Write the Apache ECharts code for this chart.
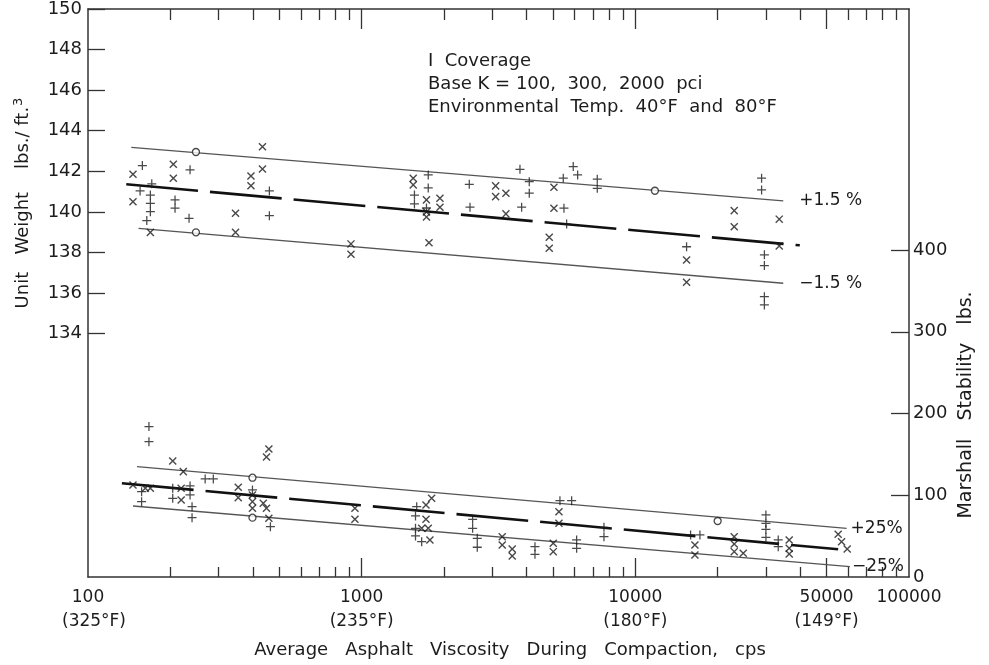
<!DOCTYPE html>
<html>
<head>
<meta charset="utf-8">
<title>Unit Weight / Marshall Stability vs Viscosity</title>
<script src="https://cdn.jsdelivr.net/npm/echarts/dist/echarts.min.js"></script>
<style>
  html, body { margin: 0; padding: 0; background: #fff; }
  #chart { width: 989px; height: 665px; }
</style>
</head>
<body>
<div id="chart"></div>
<script>
// x: viscosity (cps), upper y: unit weight (lbs/ft3), lower y: Marshall stability (lbs)
const upperPlus = [
  [158, 142.28], [171, 141.38], [155, 141.03], [169, 140.83], [169, 140.42], [169, 140.01], [164, 139.57],
  [208, 140.59], [208, 140.18], [236, 142.07], [234, 139.68], [460, 141.03], [460, 139.81],
  [1559, 140.83], [1559, 140.39], [1751, 141.82], [1751, 141.18], [1725, 140.19],
  [2473, 141.36], [2488, 140.23], [3788, 142.1], [4097, 141.49], [4097, 140.92], [3842, 140.23],
  [5485, 140.18], [5453, 141.66], [5930, 142.23], [6154, 141.82], [7259, 141.61], [7259, 141.16], [5610, 139.4],
  [28930, 141.66], [28930, 141.08], [15390, 138.28], [29620, 137.88], [29620, 137.35], [29620, 135.82], [29620, 135.41]
]
const upperCross = [
  [146, 141.85], [146, 140.5], [205, 142.35], [205, 141.66], [434, 143.21], [434, 142.11], [394, 141.77], [394, 141.29],
  [169, 138.99], [346, 139.93], [346, 138.99], [914, 138.42], [914, 137.91],
  [1543, 141.66], [1543, 141.33], [1725, 140.59], [1725, 140.0], [1725, 139.75], [1762, 138.48],
  [1932, 140.67], [1932, 140.23], [3087, 141.28], [3087, 140.75], [3366, 140.92], [3366, 139.9],
  [5042, 141.21], [5042, 140.18], [4846, 138.75], [4846, 138.21],
  [22980, 140.06], [22980, 139.27], [33560, 139.64], [33560, 138.32], [15390, 137.63], [15390, 136.53]
]
const upperCircle = [[248, 142.95], [248, 138.99], [11790, 141.04]]

const lowerPlus = [
  [167, 184.0], [167, 165.6], [157, 104.4], [204, 108.6], [236, 111.4], [204, 96.3], [236, 100.4], [157, 92.2],
  [240, 86.0], [240, 72.6], [268, 120.0], [287, 120.0], [399, 106.5], [464, 61.6],
  [1589, 86.0], [1573, 74.7], [1573, 59.6], [1573, 50.2], [1657, 43.2],
  [2544, 70.6], [2544, 59.6], [2645, 47.4], [2645, 36.4], [4298, 37.1], [4298, 27.8],
  [5303, 93.4], [5852, 93.4], [6102, 45.3], [6102, 35.1], [7680, 60.8], [7680, 49.3],
  [15920, 51.4], [17220, 51.4], [30000, 75.9], [30000, 65.7], [30000, 58.4], [30000, 48.6], [33280, 45.3], [33280, 37.1]
]
const lowerCross = [
  [146, 112.6], [162, 108.6], [169, 108.6], [219, 108.6], [219, 94.2], [204, 142.0], [223, 128.9],
  [458, 156.7], [449, 146.9], [354, 109.8], [354, 97.1], [399, 100.4], [399, 92.2], [399, 84.1],
  [437, 90.2], [449, 84.1], [458, 71.8], [945, 84.1], [945, 70.6],
  [1802, 96.3], [1718, 88.1], [1718, 70.6], [1657, 59.6], [1751, 59.6], [1776, 45.3],
  [3263, 49.3], [3263, 39.2], [3549, 34.3], [3549, 25.7], [5013, 41.2], [5013, 31.0], [5259, 79.9], [5259, 65.7],
  [16510, 39.2], [16510, 26.9], [22980, 49.3], [22980, 40.4], [22980, 31.0], [24790, 29.0],
  [36500, 45.3], [36500, 35.1], [36500, 28.2], [55100, 52.3], [56700, 43.2], [59450, 34.3]
]
const lowerCircle = [[399, 121.5], [399, 72.6], [19990, 68.5]]

// fitted line and +/- band ends
const weightHigh = [[144, 143.18], [34710, 140.54]]
const weightMid = [[138, 141.36], [39900, 138.35]]
const weightLow = [[153, 139.19], [34710, 136.48]]
const stabHigh = [[151, 135.0], [59160, 59.6]]
const stabMid = [[133, 114.7], [55100, 33.9]]
const stabLow = [[146, 86.9], [60810, 12.6]]

// axis ticks and labels
const xLabelValues = [100, 1000, 10000, 50000, 100000]
const xLabelTemps = ['(325°F)', '(235°F)', '(180°F)', '(149°F)', '']
const xMinorTicks = [200, 300, 400, 500, 600, 700, 800, 900,
  2000, 3000, 4000, 5000, 6000, 7000, 8000, 9000,
  20000, 30000, 40000, 60000, 70000, 80000, 90000]
const xMajorTicks = [1000, 10000, 50000]
const weightTicks = [134, 136, 138, 140, 142, 144, 146, 148, 150]
const stabTicks = [100, 200, 300, 400]
const stabLabels = [0, 100, 200, 300, 400]

const ink = '#1c1c1c'
const font = 'DejaVu Sans'
const plusPath = 'path://M0,4.3h10v1.4h-10z M4.3,0h1.4v10h-1.4z'

function xAxisFor (position, ticks, len, showLine, showLabel) {
  return {
    type: 'log',
    logBase: 10,
    min: 100,
    max: 100000,
    position: position,
    axisLine: { show: showLine, onZero: false, lineStyle: { color: '#333', width: 1.5 } },
    axisTick: { show: true, inside: true, length: len, customValues: ticks, lineStyle: { color: '#333', width: 1.3 } },
    splitLine: { show: false },
    minorTick: { show: false },
    axisLabel: showLabel ? {
      customValues: xLabelValues,
      color: ink,
      fontFamily: font,
      fontSize: 17,
      lineHeight: 24,
      margin: 9,
      formatter: value => {
        const i = xLabelValues.findIndex(v => Math.abs(v - value) / v < 1e-6)
        if (i < 0) return ''
        const temp = xLabelTemps[i]
        // first label sits a little right of its tick in the original
        if (i === 0) return `{a|${xLabelValues[i]}}\n{b|${temp}}`
        return temp ? `${xLabelValues[i]}\n${temp}` : `${xLabelValues[i]}`
      },
      rich: {
        a: { fontFamily: font, fontSize: 17, lineHeight: 24, color: ink },
        b: { fontFamily: font, fontSize: 17, lineHeight: 24, color: ink, padding: [0, 0, 0, 12] }
      }
    } : { show: false }
  }
}

function scatter (name, data, yIndex, symbol, rotate, size) {
  const circle = symbol === 'circle'
  return {
    name: name,
    type: 'scatter',
    yAxisIndex: yIndex,
    data: data,
    symbol: symbol,
    symbolRotate: rotate,
    symbolSize: size,
    z: 5,
    itemStyle: circle
      ? { color: '#fff', borderColor: ink, borderWidth: 1.3 }
      : { color: ink },
    emphasis: { disabled: true }
  }
}

function band (name, data, yIndex, thick, label, gap) {
  return {
    name: name,
    type: 'line',
    yAxisIndex: yIndex,
    data: data,
    symbol: 'none',
    z: 3,
    lineStyle: thick
      ? { color: '#111', width: 2.6, type: [72, 12] }
      : { color: '#555', width: 1.3 },
    endLabel: label ? {
      show: true,
      formatter: label,
      distance: gap,
      color: ink,
      fontFamily: font,
      fontSize: 17
    } : { show: false },
    emphasis: { disabled: true }
  }
}

const chart = echarts.init(document.getElementById('chart'), null, { renderer: 'canvas' })

chart.setOption({
  animation: false,
  backgroundColor: '#fff',
  grid: { left: 88, right: 80, top: 9, bottom: 88 },
  xAxis: [
    xAxisFor('bottom', xMinorTicks, 10, true, true),
    xAxisFor('bottom', xMajorTicks, 19, false, false),
    xAxisFor('top', xMinorTicks, 11, true, false),
    xAxisFor('top', xMajorTicks, 20, false, false)
  ],
  yAxis: [
    {
      type: 'value',
      min: 122,
      max: 150,
      interval: 2,
      position: 'left',
      axisLine: { show: true, lineStyle: { color: '#333', width: 1.5 } },
      axisTick: { show: true, inside: true, length: 17, customValues: weightTicks, lineStyle: { color: '#333', width: 1.3 } },
      axisLabel: { customValues: weightTicks, color: ink, fontFamily: font, fontSize: 18, margin: 6 },
      splitLine: { show: false }
    },
    {
      type: 'value',
      min: 0,
      max: 695,
      interval: 100,
      position: 'right',
      axisLine: { show: true, lineStyle: { color: '#333', width: 1.5 } },
      axisTick: { show: true, inside: true, length: 18, customValues: stabTicks, lineStyle: { color: '#333', width: 1.3 } },
      axisLabel: { customValues: stabLabels, color: ink, fontFamily: font, fontSize: 18, margin: 4 },
      splitLine: { show: false }
    }
  ],
  graphic: [
    {
      type: 'text',
      left: 428,
      top: 50,
      style: {
        text: 'I  Coverage\nBase K = 100,  300,  2000  pci\nEnvironmental  Temp.  40°F  and  80°F',
        fill: ink,
        font: `18px "${font}"`,
        lineHeight: 23
      }
    },
    {
      type: 'text',
      x: 23,
      y: 203,
      rotation: Math.PI / 2,
      style: {
        text: 'Unit   Weight    lbs./ ft.{sup|3}',
        fill: ink,
        font: `18px "${font}"`,
        align: 'center',
        verticalAlign: 'middle',
        rich: { sup: { fontSize: 13, fontFamily: font, verticalAlign: 'top', padding: [0, 0, 8, 1] } }
      }
    },
    {
      type: 'text',
      x: 966,
      y: 405,
      rotation: Math.PI / 2,
      style: {
        text: 'Marshall   Stability   lbs.',
        fill: ink,
        font: `19px "${font}"`,
        align: 'center',
        verticalAlign: 'middle'
      }
    },
    {
      type: 'text',
      x: 510,
      y: 650,
      style: {
        text: 'Average   Asphalt   Viscosity   During   Compaction,   cps',
        fill: ink,
        font: `18px "${font}"`,
        align: 'center',
        verticalAlign: 'middle'
      }
    }
  ],
  series: [
    band('weight +1.5%', weightHigh, 0, false, '+1.5 %', 16),
    band('weight fit', weightMid, 0, true, null, 0),
    band('weight -1.5%', weightLow, 0, false, '−1.5 %', 16),
    band('stability +25%', stabHigh, 1, false, '+25%', 4),
    band('stability fit', stabMid, 1, true, null, 0),
    band('stability -25%', stabLow, 1, false, '−25%', 2),
    scatter('weight +', upperPlus, 0, plusPath, 0, 9),
    scatter('weight x', upperCross, 0, plusPath, 45, 10),
    scatter('weight o', upperCircle, 0, 'circle', 0, 7),
    scatter('stability +', lowerPlus, 1, plusPath, 0, 9),
    scatter('stability x', lowerCross, 1, plusPath, 45, 10),
    scatter('stability o', lowerCircle, 1, 'circle', 0, 7)
  ]
})
</script>
</body>
</html>
